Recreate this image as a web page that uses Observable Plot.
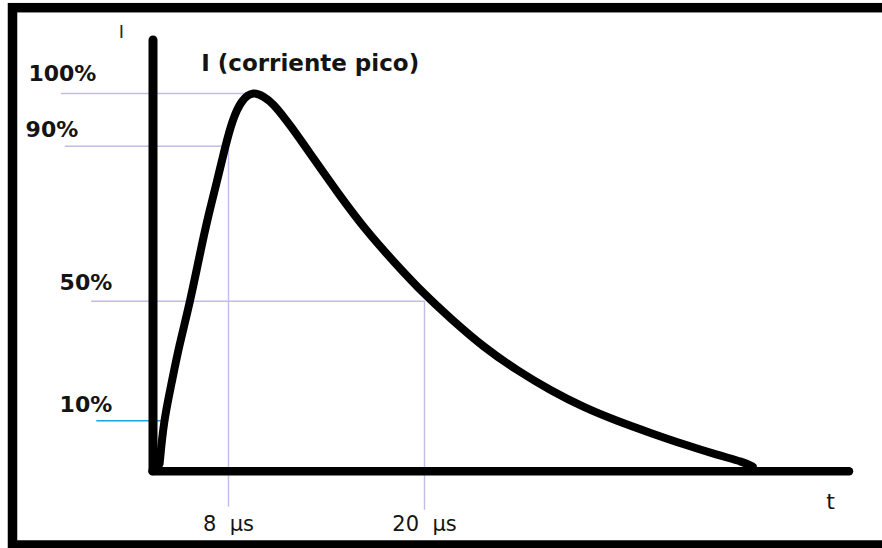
<!DOCTYPE html>
<html>
<head>
<meta charset="utf-8">
<script src="https://cdn.jsdelivr.net/npm/d3@7"></script>
<script src="https://cdn.jsdelivr.net/npm/@observablehq/plot@0.6"></script>
<style>
  html, body { margin: 0; padding: 0; background: #fff; overflow: hidden; }
  #chart svg { display: block; max-width: none !important; }
</style>
</head>
<body>
<div id="chart"></div>
<script>
// Impulse current waveform: time t (µs) vs current I (% of peak)
const curveT = [0.7, 1.14, 2.03, 2.73, 3.97, 5.11, 5.91, 6.80, 7.68, 8.23, 8.8, 9.55, 10.15, 10.68, 11.80, 13.22, 14.66, 16.49, 18.33, 19.96, 21.84, 24.19, 26.55, 28.9, 31.25, 33.6, 35.96, 38.31, 40.67, 42.53, 43.17];
const curveI = [1.5, 10.1, 23.5, 34.6, 50.2, 63.9, 72.6, 81.1, 90.1, 94.9, 98.9, 100.4, 99.4, 98.35, 93.93, 86.75, 78.13, 67.81, 59.21, 51.91, 44.21, 34.52, 26.82, 20.13, 14.45, 9.95, 7.58, 5.31, 3.23, 1.84, 0.95];

// Level guides (% of peak) and their labels
const levels = [100, 90, 50, 10];
const levelLabels = ["100%", "90%", "50%", "10%"];
const guideFromT = [-9.7, -9.3, -6.5, -5.95];
const guideToT = [9.55, 8, 20, 0.9];
const levelLabelT = [-13.2, -13.5, -9.9, -9.9];
const levelLabelI = [102.3, 91.8, 53.0, 12.8];

// Time markers (µs)
const timeTicks = [8, 20];
const timeTickLabels = ["8\u00a0\u00a0µs", "20\u00a0\u00a0µs"];
const timeTickLevel = [90, 50];
const timeGuideBottom = [-7.1, -7.7];
const timeLabelI = -11.8;

// Axis extents and titles
const axisTEnd = 50;
const axisIEnd = 110;
const titleText = "I (corriente pico)";
const titleAt = {t: 13.0, i: 104.3};
const yName = "I";
const yNameAt = {t: -3.35, i: 110.4};
const xName = "t";
const xNameAt = {t: 48.66, i: -7.5};

// The hand-drawn figure is not to scale: piecewise warps between the marked values
const tKnots = [0, 8, 20, 50];
const iKnots = [0, 10, 50, 90, 100, 110];
const warpT = d3.scaleLinear().domain(tKnots).range([152.5, 228, 424, 849]);
const warpI = d3.scaleLinear().domain(iKnots).range([77.2, 127.7, 247.3, 402.3, 455, 508]);

const curve = curveT.map((t, k) => ({t, i: curveI[k]}));
const guides = levels.map((v, k) => ({v, label: levelLabels[k], from: guideFromT[k], to: guideToT[k], lt: levelLabelT[k], li: levelLabelI[k]}));
const ticks = timeTicks.map((t, k) => ({t, label: timeTickLabels[k], top: timeTickLevel[k], bottom: timeGuideBottom[k]}));

const lavender = "#c2bce8";
const blue = "#1ea2e4";
const ink = "#141414";

const chart = Plot.plot({
  width: 900,
  height: 548,
  marginLeft: 12,
  marginTop: 7.2,
  marginRight: 0,
  marginBottom: 3.5,
  x: {transform: warpT, domain: [0, 882], range: [0, 882], axis: null},
  y: {transform: warpI, domain: [0, 548], range: [548, 0], axis: null},
  style: {background: "#fff", fontFamily: "'DejaVu Sans', sans-serif"},
  marks: [
    // picture border (its right side falls outside the window)
    Plot.frame({stroke: "#000", strokeWidth: 9.5}),
    // level guides
    Plot.ruleY(guides, {y: "v", x1: "from", x2: "to", stroke: d => d.v === 10 ? blue : lavender, strokeWidth: 1.4}),
    Plot.ruleX(ticks, {x: "t", y1: "bottom", y2: "top", stroke: lavender, strokeWidth: 1.4}),
    // axes
    Plot.ruleX([0], {y1: 0, y2: axisIEnd, stroke: "#000", strokeWidth: 9, strokeLinecap: "round"}),
    Plot.ruleY([0], {x1: 0, x2: axisTEnd, stroke: "#000", strokeWidth: 8.5, strokeLinecap: "round"}),
    // waveform
    Plot.line(curve, {x: "t", y: "i", stroke: "#000", strokeWidth: 8, curve: "basis", strokeLinejoin: "round", strokeLinecap: "round"}),
    // labels
    Plot.text(guides, {x: "lt", y: "li", text: "label", textAnchor: "start", lineAnchor: "bottom", fontSize: 22, fontWeight: "bold", fill: ink}),
    Plot.text(ticks, {x: "t", y: timeLabelI, text: "label", textAnchor: "middle", lineAnchor: "bottom", fontSize: 21, fill: ink}),
    Plot.text([titleText], {x: titleAt.t, y: titleAt.i, text: d => d, textAnchor: "middle", lineAnchor: "bottom", fontSize: 23, fontWeight: "bold", fill: ink}),
    Plot.text([yName], {x: yNameAt.t, y: yNameAt.i, text: d => d, textAnchor: "middle", lineAnchor: "bottom", fontSize: 18, fill: "#2a2a2a"}),
    Plot.text([xName], {x: xNameAt.t, y: xNameAt.i, text: d => d, textAnchor: "middle", lineAnchor: "bottom", fontSize: 22, fill: ink})
  ]
});
document.getElementById("chart").append(chart);
</script>
</body>
</html>
